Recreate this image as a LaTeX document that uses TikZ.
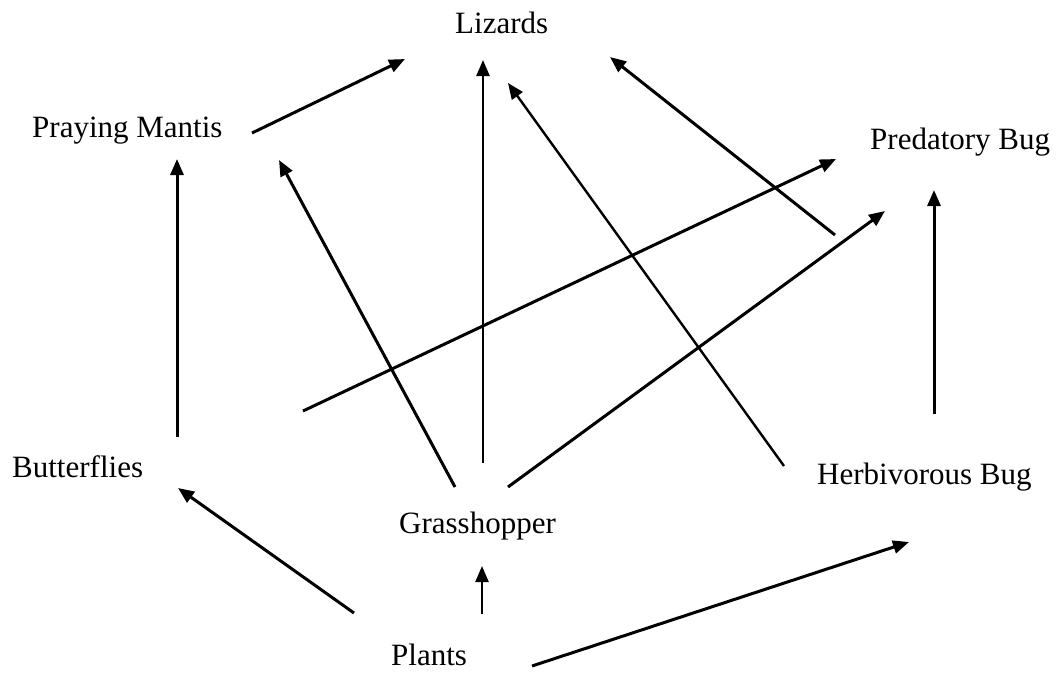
\documentclass[tikz,border=0pt]{standalone}
\usepackage{fontspec}
\setmainfont{Liberation Serif}
\usetikzlibrary{arrows.meta}
\begin{document}
\begin{tikzpicture}[x=1pt,y=-1pt,
  label/.style={anchor=base west,inner sep=0pt,font=\fontsize{31}{36}\selectfont},
  link/.style={line width=3pt,-{Triangle[length=16pt,width=13pt]}},
  thinlink/.style={line width=2.4pt,-{Triangle[length=16pt,width=13pt]}}]
\useasboundingbox[fill=white] (0,0) rectangle (1062,673);
% nodes
\node[label] (lizards) at (455,33) {Lizards};
\node[label] (mantis) at (32,137) {Praying Mantis};
\node[label] (predbug) at (870,149) {Predatory Bug};
\node[label] (butterflies) at (12,477) {Butterflies};
\node[label] (grasshopper) at (399,533) {Grasshopper};
\node[label] (herbbug) at (817,484) {Herbivorous Bug};
\node[label] (plants) at (391,665) {Plants};
% connector end points
\coordinate (mantisOut) at (252,133);
\coordinate (lizIn1) at (405,59);
\coordinate (grassOut1) at (483,463);
\coordinate (lizIn2) at (483,60);
\coordinate (herbOut1) at (784,466);
\coordinate (lizIn3) at (508,83);
\coordinate (predOut) at (835,235);
\coordinate (lizIn4) at (610,57);
\coordinate (butOut1) at (177,437);
\coordinate (mantisIn1) at (177,159);
\coordinate (grassOut2) at (455,487);
\coordinate (mantisIn2) at (279,160);
\coordinate (butOut2) at (303,411);
\coordinate (predIn1) at (836,159);
\coordinate (grassOut3) at (508,487);
\coordinate (predIn2) at (885,211);
\coordinate (herbOut2) at (934,414);
\coordinate (predIn3) at (934,190);
\coordinate (plantsOut1) at (354,613);
\coordinate (butIn) at (178,488);
\coordinate (plantsOut2) at (482,614);
\coordinate (grassIn) at (482,566);
\coordinate (plantsOut3) at (532,666);
\coordinate (herbIn) at (909,542);
% connectors
\draw[link] (mantisOut) -- (lizIn1);
\draw[thinlink] (grassOut1) -- (lizIn2);
\draw[thinlink] (herbOut1) -- (lizIn3);
\draw[link] (predOut) -- (lizIn4);
\draw[link] (butOut1) -- (mantisIn1);
\draw[link] (grassOut2) -- (mantisIn2);
\draw[link] (butOut2) -- (predIn1);
\draw[link] (grassOut3) -- (predIn2);
\draw[link] (herbOut2) -- (predIn3);
\draw[link] (plantsOut1) -- (butIn);
\draw[thinlink] (plantsOut2) -- (grassIn);
\draw[link] (plantsOut3) -- (herbIn);
\end{tikzpicture}
\end{document}
